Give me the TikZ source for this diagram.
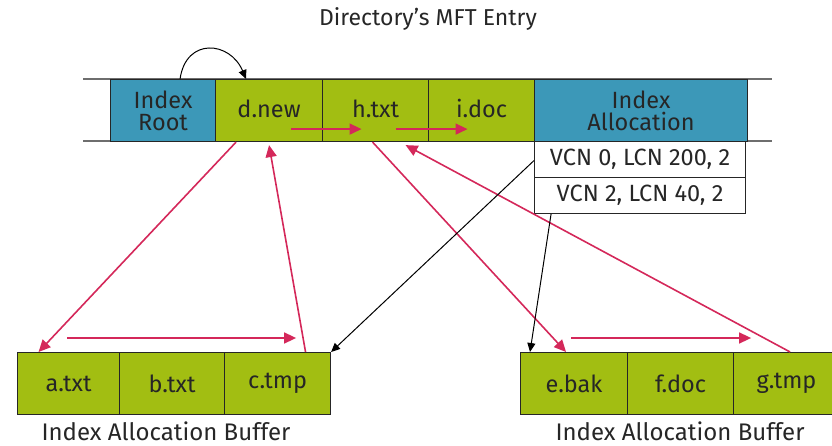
\documentclass[tikz,border=0pt]{standalone}
\usepackage{fontspec}
\setmainfont{Fira Sans}
\usetikzlibrary{arrows.meta}
\definecolor{cellgreen}{HTML}{A2BE12}
\definecolor{cellblue}{HTML}{3C98B8}
\definecolor{linkred}{HTML}{D4285A}
\definecolor{railgrey}{HTML}{6E6E6E}
\tikzset{
  cell/.style={draw=black!85, line width=1.1pt, minimum height=62pt, inner sep=0pt,
    font=\fontsize{23.5}{22}\selectfont, align=center, text=black!85},
  leaf/.style={cell, fill=cellgreen},
  hdr/.style={cell, fill=cellblue},
  run/.style={draw=black!85, line width=1.1pt, fill=white, minimum width=211pt,
    minimum height=36pt, inner sep=0pt, font=\fontsize{23.5}{23.5}\selectfont, text=black!85},
  caption/.style={font=\fontsize{24}{24}\selectfont, text=black!85},
  redlink/.style={draw=linkred, line width=1.6pt, -{Triangle[length=12pt,width=11pt]}},
  blklink/.style={draw=black, line width=1pt, -{Triangle[length=9pt,width=8pt]}},
}
\begin{document}
\begin{tikzpicture}[x=1pt,y=-1pt]
\useasboundingbox (0,0) rectangle (832,446);

\node[caption, font=\fontsize{23}{23}\selectfont] (title) at (428,19) {Directory's MFT Entry};

% rails of the MFT record
\draw[railgrey, line width=1.6pt] (83,79) coordinate (railTL) -- (772,79) coordinate (railTR);
\draw[railgrey, line width=1.6pt] (83,141) coordinate (railBL) -- (772,141) coordinate (railBR);

% MFT entry attributes
\node[hdr, minimum width=105pt, anchor=north west] (root) at (110,79) {Index\\Root};
\node[leaf, minimum width=107pt, anchor=north west] (dnew) at (215,79) {\raisebox{4pt}{d.new}};
\node[leaf, minimum width=106pt, anchor=north west] (htxt) at (322,79) {\raisebox{4pt}{h.txt}};
\node[leaf, minimum width=106pt, anchor=north west] (idoc) at (428,79) {\raisebox{4pt}{i.doc}};
\node[hdr, minimum width=213pt, anchor=north west] (alloc) at (534,79) {Index\\Allocation};

% run list
\node[run, anchor=north west] (vcn0) at (534,141) {VCN 0, LCN 200, 2};
\node[run, anchor=north west] (vcn2) at (534,177) {VCN 2, LCN 40, 2};

% first index allocation buffer
\node[leaf, minimum width=102pt, anchor=north west] (atxt) at (17,352) {a.txt};
\node[leaf, minimum width=105pt, anchor=north west] (btxt) at (119,352) {b.txt};
\node[leaf, minimum width=106pt, anchor=north west] (ctmp) at (224,352) {c.tmp};
\node[caption] (bufL) at (166,431) {Index Allocation Buffer};

% second index allocation buffer
\node[leaf, minimum width=107pt, anchor=north west] (ebak) at (520,352) {e.bak};
\node[leaf, minimum width=106pt, anchor=north west] (fdoc) at (627,352) {f.doc};
\node[leaf, minimum width=106pt, anchor=north west] (gtmp) at (733,352) {g.tmp};
\node[caption] (bufR) at (680,431) {Index Allocation Buffer};

% root points at the first entry
\draw[blklink] ([xshift=17pt]root.north) .. controls +(6,-42) and +(-16,-38) .. ([xshift=-23pt]dnew.north);

% ordering inside the root
\draw[redlink] ([xshift=22pt,yshift=13pt]dnew.south) -- ([xshift=-14pt,yshift=13pt]htxt.south);
\draw[redlink] ([xshift=20pt,yshift=13pt]htxt.south) -- ([xshift=-14pt,yshift=13pt]idoc.south);

% d.new subtree
\draw[redlink] ([xshift=-33pt]dnew.south) -- ([xshift=-30pt]atxt.north);
\draw[redlink] ([xshift=28pt]ctmp.north) -- ([yshift=-3pt]dnew.south);
\draw[redlink] ([xshift=-53pt,yshift=14pt]atxt.north east) -- ([xshift=-35pt,yshift=14pt]ctmp.north east);

% h.txt subtree
\draw[redlink] ([xshift=-3pt]htxt.south) -- ([xshift=-8pt]ebak.north);
\draw[redlink] ([xshift=-50pt]gtmp.north east) -- ([xshift=30pt,yshift=-3pt]htxt.south);
\draw[redlink] ([xshift=-57pt,yshift=14pt]ebak.north east) -- ([xshift=17pt,yshift=14pt]fdoc.north east);

% run list to buffers
\draw[blklink] ([yshift=-1pt]vcn0.west) -- (ctmp.north east);
\draw[blklink] ([xshift=-89pt]vcn2.south) -- ([xshift=10pt]ebak.north west);
\end{tikzpicture}
\end{document}
